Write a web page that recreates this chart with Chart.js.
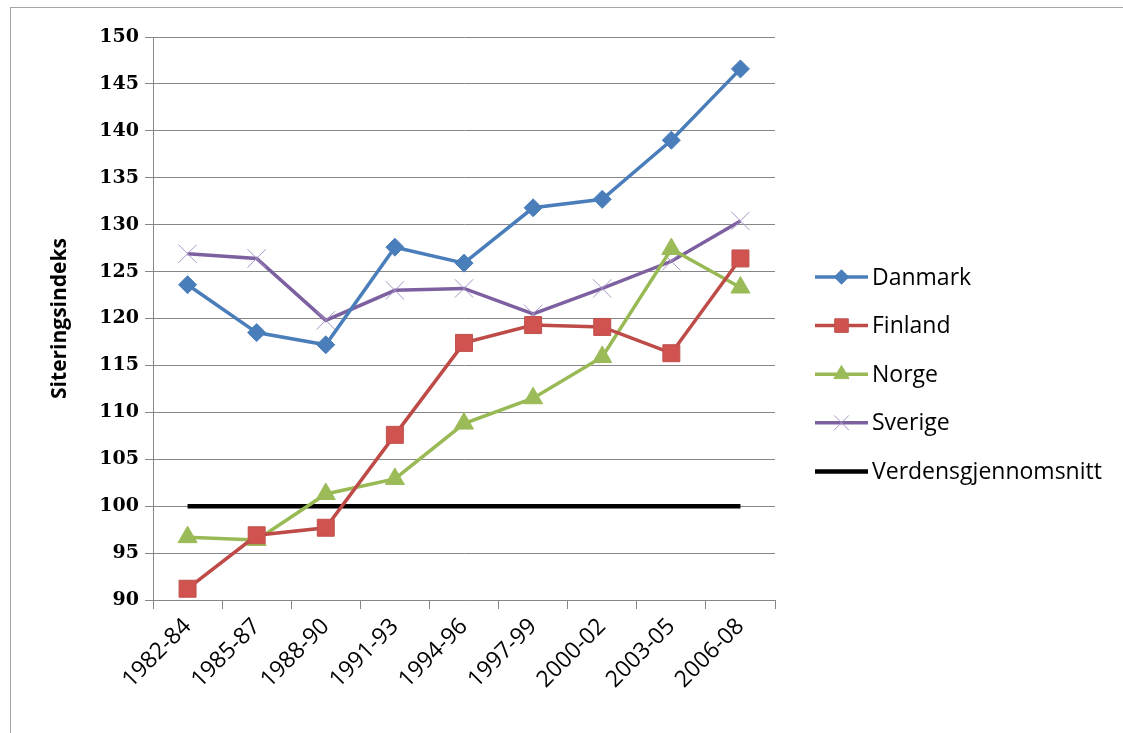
<!DOCTYPE html>
<html lang="no">
<head>
<meta charset="UTF-8">
<title>Siteringsindeks</title>
<script src="https://cdn.jsdelivr.net/npm/chart.js"></script>
<style>
  html, body { margin: 0; padding: 0; background: #fff; }
  #wrap { width: 1123px; height: 733px; position: relative; }
</style>
</head>
<body>
<div id="wrap"><canvas id="chart" width="1123" height="733"></canvas></div>
<script>
// periodene på x-aksen
const periods = ['1982-84', '1985-87', '1988-90', '1991-93', '1994-96', '1997-99', '2000-02', '2003-05', '2006-08'];

// siteringsindeks per land
const danmark = [123.6, 118.5, 117.2, 127.6, 125.9, 131.8, 132.7, 139.0, 146.6];
const finland = [91.2, 96.9, 97.7, 107.6, 117.4, 119.3, 119.1, 116.3, 126.4];
const norge   = [96.7, 96.4, 101.3, 102.9, 108.8, 111.5, 115.9, 127.4, 123.3];
const sverige = [126.9, 126.4, 119.8, 123.0, 123.2, 120.5, 123.2, 126.1, 130.4];
const verden  = [100, 100, 100, 100, 100, 100, 100, 100, 100];

const yMin = 90, yMax = 150, yStep = 5;

// ramme rundt hele figuren
const frame = {
  id: 'frame',
  beforeDraw(chart) {
    const c = chart.ctx;
    c.save();
    c.strokeStyle = '#a6a6a6';
    c.lineWidth = 1;
    c.strokeRect(10.5, 7.5, 1130, 740);
    c.restore();
  }
};

// egen forklaring til høyre: linje med markør, som i Excel
const sideLegend = {
  id: 'sideLegend',
  afterDraw(chart) {
    const c = chart.ctx;
    const x0 = 815, x1 = 868, top = 277, gap = 48.6;
    c.save();
    chart.data.datasets.forEach((ds, i) => {
      const y = top + i * gap;
      c.strokeStyle = ds.borderColor;
      c.lineWidth = ds.borderWidth;
      c.beginPath(); c.moveTo(x0, y); c.lineTo(x1, y); c.stroke();
      if (ds.pointStyle && ds.pointRadius > 0) {
        c.fillStyle = ds.pointBackgroundColor;
        c.strokeStyle = ds.pointBorderColor;
        c.lineWidth = ds.pointBorderWidth;
        Chart.helpers.drawPoint(c, {
          pointStyle: ds.pointStyle,
          radius: ds.pointRadius * 0.8,
          borderWidth: ds.pointBorderWidth,
          rotation: 0
        }, (x0 + x1) / 2, y);
      }
      c.fillStyle = '#000';
      c.font = '23px "Open Sans"';
      c.textBaseline = 'middle';
      c.fillText(ds.label, x1 + 4, y + 1);
    });
    c.restore();
  }
};

const ctx = document.getElementById('chart').getContext('2d');
const chart = new Chart(ctx, {
  type: 'line',
  data: {
    labels: periods,
    datasets: [
      {
        label: 'Danmark', data: danmark,
        borderColor: '#4a7ebb', backgroundColor: '#4a7ebb', borderWidth: 3.5,
        pointStyle: 'rectRot', pointRadius: 9, pointBorderWidth: 1, pointBorderColor: '#4a7ebb', pointBackgroundColor: '#4a7ebb'
      },
      {
        label: 'Finland', data: finland,
        borderColor: '#be4b48', backgroundColor: '#be4b48', borderWidth: 3.5,
        pointStyle: 'rect', pointRadius: 12, pointBorderWidth: 1, pointBorderColor: '#c0504d', pointBackgroundColor: '#d0534f'
      },
      {
        label: 'Norge', data: norge,
        borderColor: '#98b954', backgroundColor: '#98b954', borderWidth: 3.5,
        pointStyle: 'triangle', pointRadius: 11, pointBorderWidth: 1, pointBorderColor: '#9bbb59', pointBackgroundColor: '#9bbb59'
      },
      {
        label: 'Sverige', data: sverige,
        borderColor: '#7d60a0', backgroundColor: '#7d60a0', borderWidth: 3.5,
        pointStyle: 'crossRot', pointRadius: 13, pointBorderWidth: 1, pointBorderColor: '#a596c4', pointBackgroundColor: '#a596c4'
      },
      {
        label: 'Verdensgjennomsnitt', data: verden,
        borderColor: '#000000', backgroundColor: '#000000', borderWidth: 4.5,
        pointStyle: false, pointRadius: 0
      }
    ]
  },
  options: {
    responsive: false,
    animation: false,
    layout: { padding: { top: 37, right: 348, left: 0, bottom: 0 } },
    elements: { line: { tension: 0 } },
    plugins: {
      legend: { display: false },
      tooltip: { enabled: false }
    },
    scales: {
      x: {
        type: 'category',
        offset: true,
        afterFit: (s) => { s.height = 133; },
        grid: {
          offset: true,
          drawOnChartArea: false,
          drawTicks: true,
          tickLength: 9,
          color: '#868686'
        },
        border: { color: '#868686', width: 1 },
        ticks: {
          color: '#000',
          font: { family: 'Open Sans', size: 23 },
          minRotation: 45,
          maxRotation: 45,
          padding: 4
        }
      },
      y: {
        min: yMin,
        max: yMax,
        afterFit: (s) => { s.width = 153; },
        grid: { color: '#868686', tickLength: 8 },
        border: { color: '#868686', width: 1 },
        ticks: {
          stepSize: yStep,
          color: '#000',
          padding: 6,
          font: { family: 'DejaVu Serif', size: 19, weight: 'bold' }
        },
        title: {
          display: true,
          text: 'Siteringsindeks',
          color: '#000',
          font: { family: 'Open Sans', size: 21, weight: 'bold' },
          padding: { top: 47, bottom: 0 }
        }
      }
    }
  },
  plugins: [frame, sideLegend]
});
</script>
</body>
</html>
